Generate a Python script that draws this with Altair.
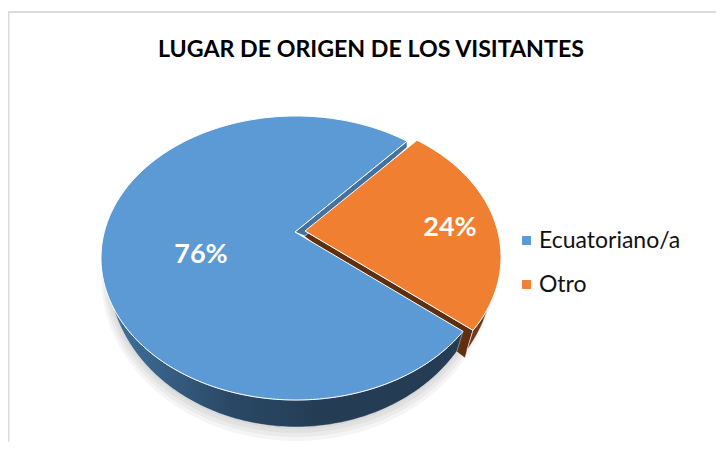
import altair as alt
import numpy as np

title = "LUGAR DE ORIGEN DE LOS VISITANTES"
categories = ["Ecuatoriano/a", "Otro"]
shares = [76, 24]
labels = ["76%", "24%"]
colors = ["#5B9AD5", "#F07F31"]
label_x = [193, 442]
label_y = [247, 220]

W, H = 708, 434

# picture geometry of the tilted pie (chart pixels)
CX, CY, A, B = 288, 250, 195, 142          # top rim ellipse
LCY, LA, LB = 262, 188, 157                # bottom rim ellipse
APEX = (287, 224)
START = 55.3                               # rim angle where slice "Otro" begins
SHIFT = (10, -1)                           # explosion of slice "Otro"


def rim(t0, t1, cy=CY, a=A, b=B, dx=0, dy=0):
    t = np.radians(np.linspace(t0, t1, int(abs(t1 - t0)) + 2))
    return [[float(CX + dx + a * np.cos(v)), float(cy + dy - b * np.sin(v))] for v in t]


def feature(ring, name):
    ring = ring + [ring[0]]
    return {"type": "Feature", "properties": {"name": name},
            "geometry": {"type": "Polygon", "coordinates": [ring]}}


span_other = shares[1] / sum(shares) * 360
END = START - span_other
sx, sy = SHIFT
apex_o = [APEX[0] + sx, APEX[1] + sy]

blue_top = [list(APEX)] + rim(START, END + 360)
orange_top = [apex_o] + rim(START, END, dx=sx, dy=sy)

blue_wall = rim(END, -166, cy=LCY, a=LA, b=LB) + rim(-166, END)
orange_wall = rim(END, -20, dx=sx, dy=sy) + rim(-20, END, cy=LCY, a=LA, b=LB, dx=sx, dy=sy)

p_end = rim(END, END, dx=sx, dy=sy)[0]
p_low = rim(END, END, cy=LCY, a=LA, b=LB, dx=sx - 2, dy=sy + 8)[0]
cut_orange = [apex_o, p_end, p_low, [apex_o[0] - 1, apex_o[1] + 5]]
p_st = rim(START, START)[0]
cut_blue = [list(APEX), p_st, [p_st[0], p_st[1] + 6], [apex_o[0], apex_o[1] + 5]]


def geo(features, **kw):
    return alt.Chart(alt.Data(values=features)).mark_geoshape(**kw).project(
        type="identity", scale=1, translate=[0, 0])


shadows = [
    geo([feature(rim(-180, 0, cy=LCY + d, a=LA + d, b=LB + d), "s")],
        fill="#000000", fillOpacity=0.04, strokeWidth=0)
    for d in (7, 5, 3, 1)
]

grad = alt.Gradient(gradient="linear", x1=0, x2=1, y1=0, y2=0,
                    stops=[alt.GradientStop(color="#41729E", offset=0),
                           alt.GradientStop(color="#2A4865", offset=0.35),
                           alt.GradientStop(color="#243D54", offset=0.6),
                           alt.GradientStop(color="#243D54", offset=1)])

cut_o = geo([feature(cut_orange, "c")], fill="#5E3011", stroke="#FFFFFF", strokeWidth=0.6)
wall_o = geo([feature(orange_wall, "w")], fill="#70391A", stroke="#FFFFFF", strokeWidth=0.6)
wall_b = geo([feature(blue_wall, "w")], fill=grad, stroke="#FFFFFF", strokeWidth=0.4)
cut_b = geo([feature(cut_blue, "c")], fill="#44729E", stroke="#FFFFFF", strokeWidth=0.6)

faces = geo([feature(blue_top, categories[0]), feature(orange_top, categories[1])],
            stroke="#FFFFFF", strokeWidth=1).encode(
    color=alt.Color(
        "properties.name:N",
        scale=alt.Scale(domain=categories, range=colors),
        legend=alt.Legend(
            title=None, orient="none", legendX=507, legendY=221,
            symbolType="square", symbolSize=80, symbolStrokeWidth=0,
            labelFont="Lato", labelFontSize=23, labelColor="#111111",
            labelOffset=1, rowPadding=20, labelLimit=200,
        ),
    )
)

xs = alt.Scale(domain=[0, W], range=[0, W])
ys = alt.Scale(domain=[0, H], range=[0, H])

frame_top = alt.Chart(alt.Data(values=[{"x": 0, "x2": W, "y": 4}])).mark_rule(
    color="#DCDCDC", strokeWidth=2).encode(
    x=alt.X("x:Q", scale=xs, axis=None), x2="x2:Q", y=alt.Y("y:Q", scale=ys, axis=None))
frame_left = alt.Chart(alt.Data(values=[{"x": 0.5, "y": 4, "y2": H}])).mark_rule(
    color="#DCDCDC", strokeWidth=2).encode(
    x=alt.X("x:Q", scale=xs, axis=None), y=alt.Y("y:Q", scale=ys, axis=None), y2="y2:Q")

text = alt.Chart(alt.Data(values=[
    {"l": labels[i], "x": label_x[i], "y": label_y[i]} for i in range(2)
])).mark_text(font="Lato", fontWeight="bold", fontSize=27, color="#FFFFFF").encode(
    x=alt.X("x:Q", scale=xs, axis=None), y=alt.Y("y:Q", scale=ys, axis=None), text="l:N")

chart = alt.layer(
    frame_top, frame_left, *shadows, cut_o, wall_o, wall_b, cut_b, faces, text
).properties(
    width=W, height=H, padding=0,
    autosize=alt.AutoSizeParams(type="none"),
    background="#FFFFFF",
    title=alt.TitleParams(title, font="Lato", fontWeight="bold", fontSize=23.2, color="#000000",
                          anchor="start", dx=150, dy=58, frame="group"),
).configure_view(stroke=None)

chart.save("out.html", embed_options={"renderer": "svg", "actions": False})
